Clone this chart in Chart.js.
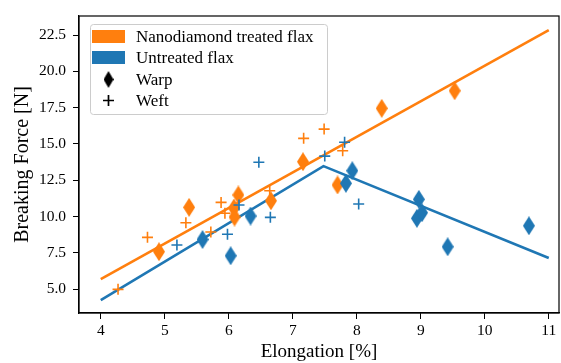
<!DOCTYPE html>
<html>
<head>
<meta charset="utf-8">
<script src="https://cdn.jsdelivr.net/npm/chart.js@4/dist/chart.umd.min.js"></script>
<style>
  body { margin: 0; background: #fff; }
  #wrap { width: 561px; height: 363px; }
</style>
</head>
<body>
<div id="wrap"><canvas id="forceChart" width="561" height="363"></canvas></div>
<script>
// treated (nanodiamond) flax
const treatedWarpX = [4.91, 5.38, 6.15, 6.08, 6.09, 6.66, 7.16, 7.70, 8.39, 9.53];
const treatedWarpY = [7.57, 10.63, 11.48, 10.58, 9.96, 11.08, 13.77, 12.17, 17.45, 18.66];
const treatedWeftX = [4.27, 4.73, 5.33, 5.72, 5.88, 5.94, 6.64, 7.17, 7.49, 7.78];
const treatedWeftY = [4.98, 8.56, 9.57, 8.93, 10.97, 10.22, 11.77, 15.38, 16.02, 14.53];
const treatedFitX = [4, 11];
const treatedFitY = [5.69, 22.84];

// untreated flax
const untreatedWarpX = [5.59, 6.03, 6.34, 7.93, 7.83, 8.97, 8.94, 9.02, 9.42, 10.69];
const untreatedWarpY = [8.41, 7.29, 10.03, 13.15, 12.28, 11.18, 9.87, 10.26, 7.91, 9.36];
const untreatedWeftX = [5.19, 6.47, 5.98, 6.16, 6.65, 7.50, 7.81, 8.03];
const untreatedWeftY = [8.03, 13.73, 8.77, 10.79, 9.94, 14.16, 15.11, 10.86];
const untreatedFitX = [4, 7.48, 11];
const untreatedFitY = [4.24, 13.47, 7.14];

const xTicks = [4, 5, 6, 7, 8, 9, 10, 11];
const yTicks = [5.0, 7.5, 10.0, 12.5, 15.0, 17.5, 20.0, 22.5];

const legendLabels = ['Nanodiamond treated flax', 'Untreated flax', 'Warp', 'Weft'];

const ORANGE = '#ff7f0e';
const BLUE = '#1f77b4';
const SERIF = "'Liberation Serif', 'Times New Roman', serif";

function toPoints(xs, ys) {
    return xs.map((x, i) => ({ x: x, y: ys[i] }));
}

function diamondImage(color, w, h) {
    const c = document.createElement('canvas');
    c.width = w;
    c.height = h;
    const g = c.getContext('2d');
    g.fillStyle = color;
    g.beginPath();
    g.moveTo(w / 2, 0);
    g.lineTo(w, h / 2);
    g.lineTo(w / 2, h);
    g.lineTo(0, h / 2);
    g.closePath();
    g.fill();
    return c;
}

const orangeDiamond = diamondImage(ORANGE, 12, 19);
const blueDiamond = diamondImage(BLUE, 12, 19);
const blackDiamond = diamondImage('#000', 10, 17);

// spines on all four sides plus the boxed legend
const framePlugin = {
    id: 'frame',
    afterDraw(chart) {
        const ctx = chart.ctx;
        const a = chart.chartArea;
        ctx.save();
        ctx.strokeStyle = '#000';
        ctx.lineWidth = 1.2;
        ctx.strokeRect(a.left, a.top, a.right - a.left, a.bottom - a.top);

        // legend box
        const bx = 90.5, by = 24.5, bw = 237, bh = 90;
        ctx.fillStyle = 'rgba(255,255,255,0.8)';
        ctx.strokeStyle = '#cccccc';
        ctx.lineWidth = 1;
        ctx.beginPath();
        ctx.roundRect(bx, by, bw, bh, 3);
        ctx.fill();
        ctx.stroke();

        const rows = [36.5, 57.3, 79.5, 100.5];
        ctx.fillStyle = ORANGE;
        ctx.fillRect(92, 30, 33, 13);
        ctx.fillStyle = BLUE;
        ctx.fillRect(92, 51, 33, 13);
        ctx.drawImage(blackDiamond, 108.5 - 5, rows[2] - 8.5);
        ctx.strokeStyle = '#000';
        ctx.lineWidth = 1.7;
        ctx.beginPath();
        ctx.moveTo(103, rows[3]);
        ctx.lineTo(114, rows[3]);
        ctx.moveTo(108.5, rows[3] - 5.5);
        ctx.lineTo(108.5, rows[3] + 5.5);
        ctx.stroke();

        ctx.fillStyle = '#000';
        ctx.font = '17px ' + SERIF;
        ctx.textBaseline = 'middle';
        ctx.textAlign = 'left';
        legendLabels.forEach((label, i) => {
            ctx.fillText(label, 136, rows[i] + 1);
        });
        ctx.restore();
    }
};

const ctx = document.getElementById('forceChart').getContext('2d');
const forceChart = new Chart(ctx, {
    type: 'scatter',
    data: {
        datasets: [
            {
                type: 'line',
                data: toPoints(treatedFitX, treatedFitY),
                borderColor: ORANGE,
                borderWidth: 2.6,
                pointRadius: 0,
                fill: false,
                order: 10
            },
            {
                type: 'line',
                data: toPoints(untreatedFitX, untreatedFitY),
                borderColor: BLUE,
                borderWidth: 2.6,
                pointRadius: 0,
                fill: false,
                order: 9
            },
            {
                data: toPoints(treatedWarpX, treatedWarpY),
                pointStyle: orangeDiamond,
                order: 8
            },
            {
                data: toPoints(treatedWeftX, treatedWeftY),
                pointStyle: 'cross',
                pointRadius: 5.5,
                borderColor: ORANGE,
                borderWidth: 1.6,
                order: 7
            },
            {
                data: toPoints(untreatedWarpX, untreatedWarpY),
                pointStyle: blueDiamond,
                order: 6
            },
            {
                data: toPoints(untreatedWeftX, untreatedWeftY),
                pointStyle: 'cross',
                pointRadius: 5.5,
                borderColor: BLUE,
                borderWidth: 1.6,
                order: 5
            }
        ]
    },
    options: {
        responsive: false,
        animation: false,
        layout: { autoPadding: false, padding: { top: 16, right: 2, left: 0, bottom: 0 } },
        plugins: {
            legend: { display: false },
            tooltip: { enabled: false }
        },
        scales: {
            x: {
                type: 'linear',
                min: 3.66,
                max: 11.16,
                afterFit: (s) => { s.height = 50; s.paddingRight = 0; s.paddingLeft = 0; },
                afterBuildTicks: (s) => { s.ticks = xTicks.map((v) => ({ value: v })); },
                ticks: {
                    includeBounds: false,
                    color: '#000',
                    padding: 3,
                    maxRotation: 0,
                    font: { family: SERIF, size: 15.5 },
                    callback: (v) => String(v)
                },
                grid: { drawOnChartArea: false, drawTicks: true, tickLength: 6, color: '#000' },
                border: { display: true, color: '#000', width: 1.2 },
                title: {
                    display: true,
                    text: 'Elongation [%]',
                    color: '#000',
                    padding: 0,
                    font: { family: SERIF, size: 19 }
                }
            },
            y: {
                type: 'linear',
                min: 3.35,
                max: 23.81,
                afterFit: (s) => { s.width = 79; s.paddingTop = 0; s.paddingBottom = 0; },
                afterBuildTicks: (s) => { s.ticks = yTicks.map((v) => ({ value: v })); },
                ticks: {
                    includeBounds: false,
                    color: '#000',
                    padding: 7,
                    font: { family: SERIF, size: 15.5 },
                    callback: (v) => v.toFixed(1)
                },
                grid: { drawOnChartArea: false, drawTicks: true, tickLength: 6, color: '#000' },
                border: { display: true, color: '#000', width: 1.2 },
                title: {
                    display: true,
                    text: 'Breaking Force [N]',
                    color: '#000',
                    padding: { top: 11, bottom: 0 },
                    font: { family: SERIF, size: 20 }
                }
            }
        }
    },
    plugins: [framePlugin]
});
</script>
</body>
</html>
